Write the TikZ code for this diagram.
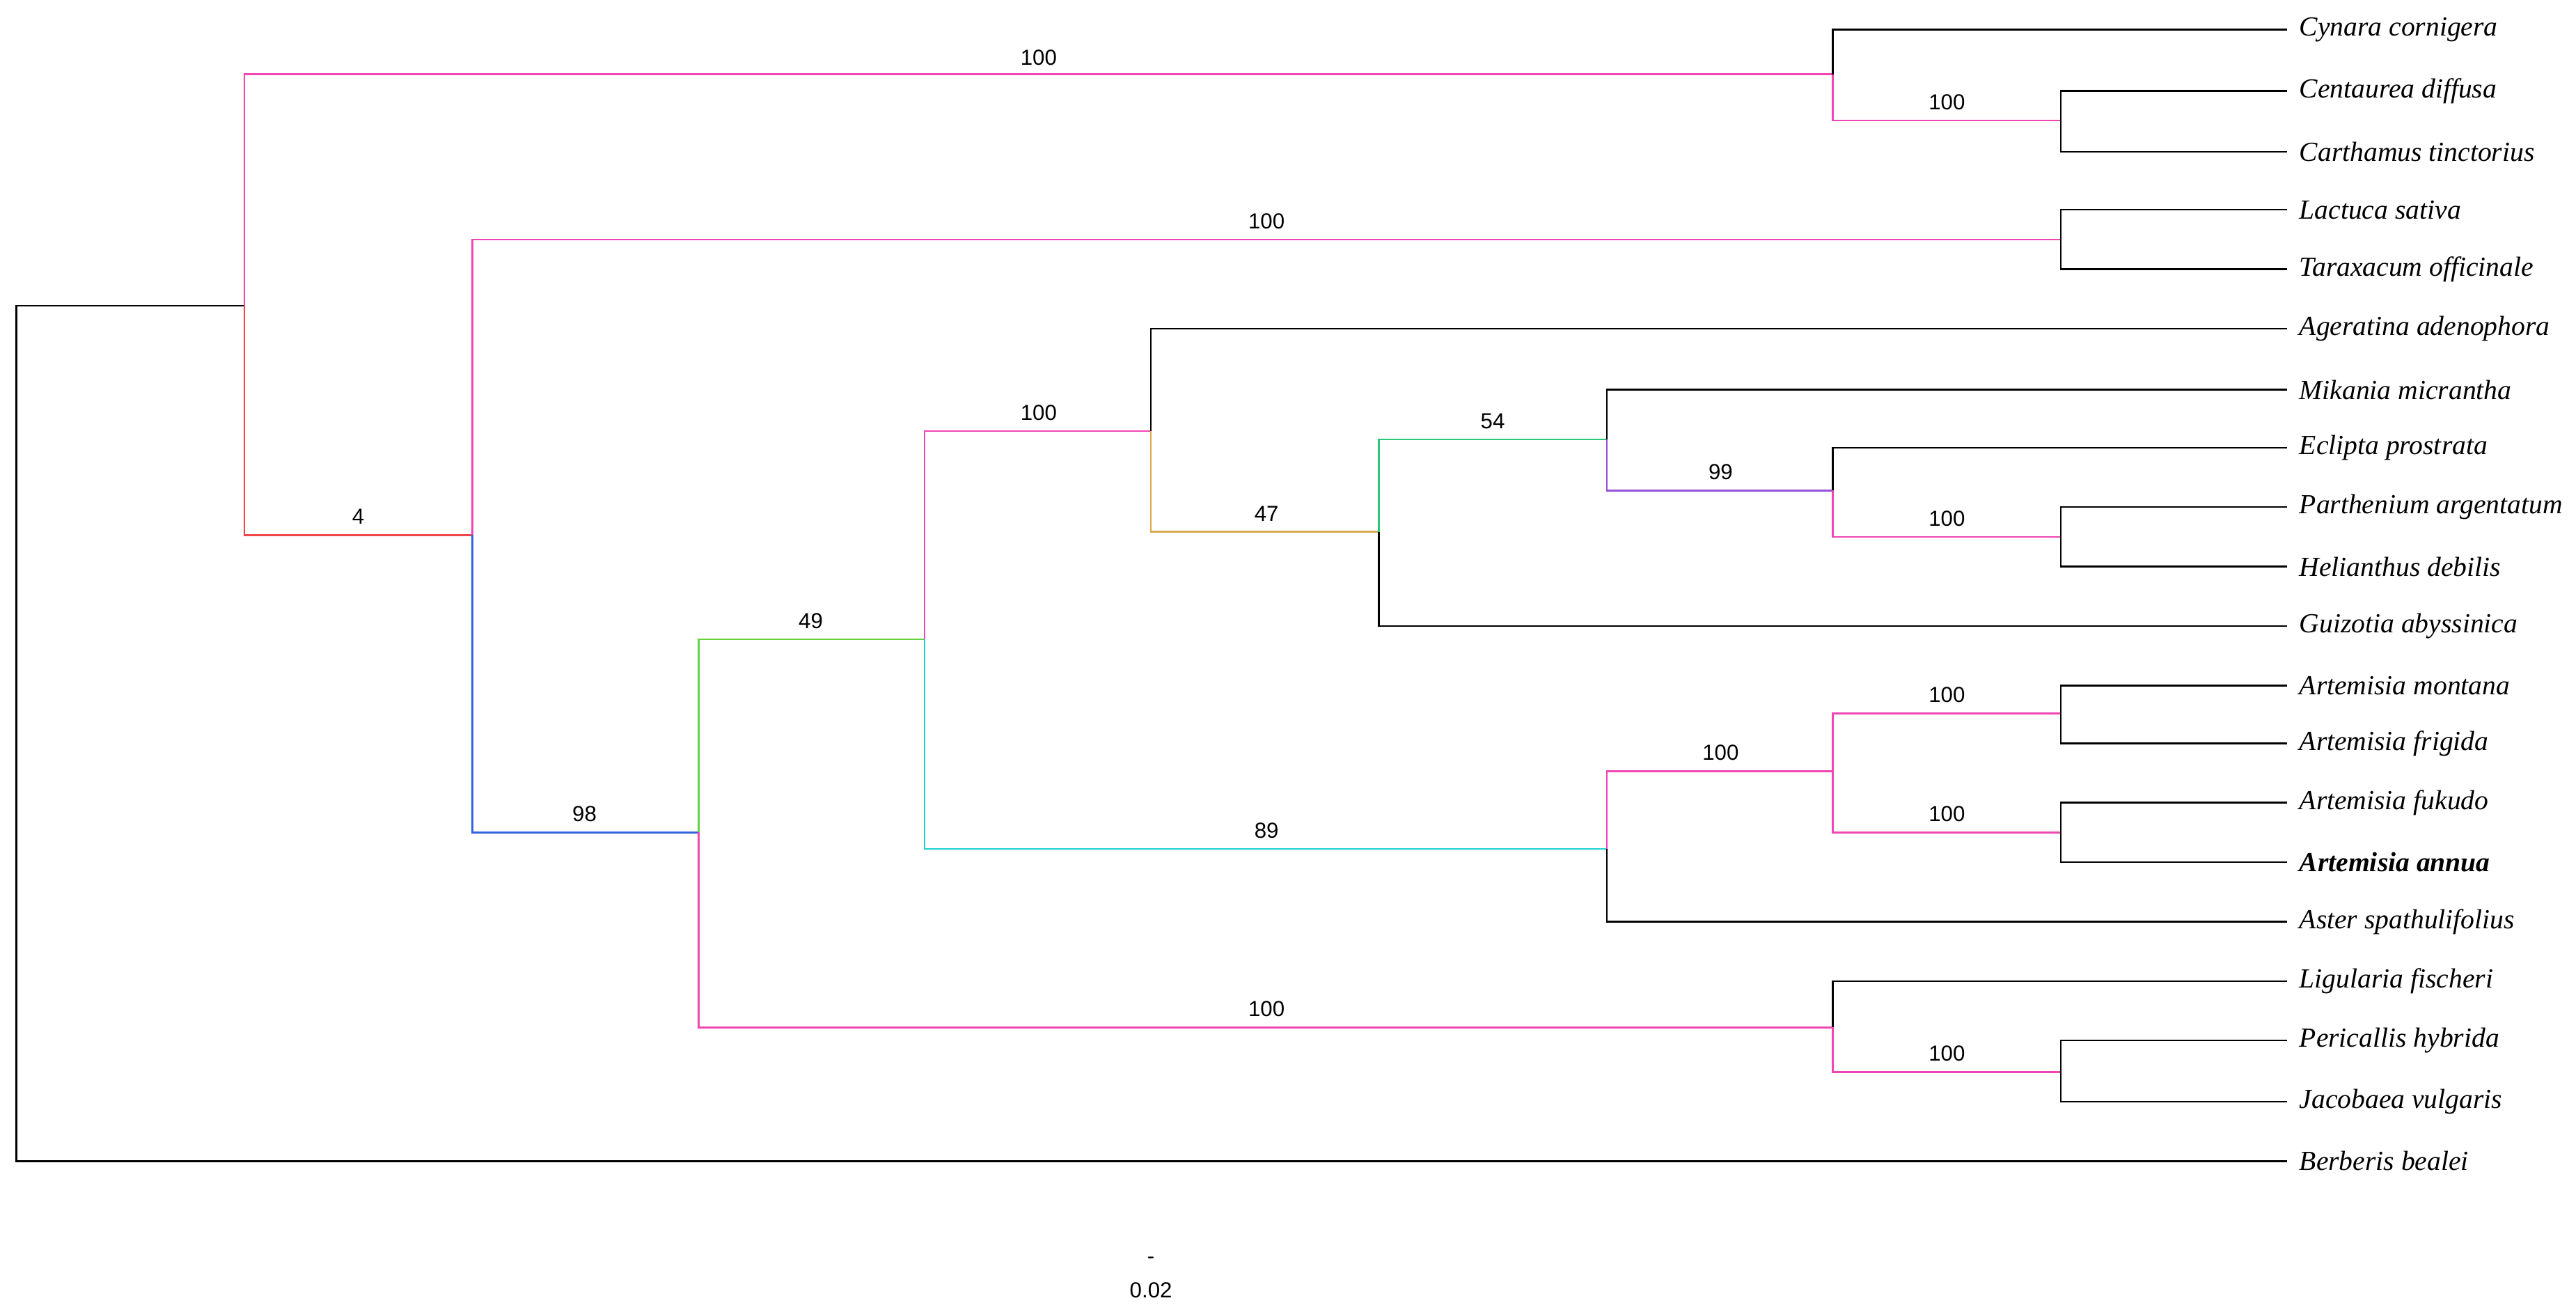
\documentclass[tikz,border=0pt]{standalone}
\usepackage{fontspec}
\setmainfont{Liberation Serif}
\newfontfamily\arialf{Liberation Sans}
\definecolor{pk}{RGB}{240,70,180}
\definecolor{rd}{RGB}{240,70,70}
\definecolor{bl}{RGB}{50,100,220}
\definecolor{gr}{RGB}{100,210,60}
\definecolor{cy}{RGB}{30,210,210}
\definecolor{or}{RGB}{215,170,80}
\definecolor{gg}{RGB}{40,200,120}
\definecolor{pu}{RGB}{150,80,220}
\begin{document}
\begin{tikzpicture}[x=0.02cm,y=-0.02cm,line width=0.6pt,
  sp/.style={anchor=west,inner sep=0pt,font=\fontsize{9.5}{11}\selectfont\itshape},
  bs/.style={anchor=south,inner sep=0pt,font=\arialf\fontsize{7.5}{9}\selectfont},
  br/.style={draw=#1}]
\useasboundingbox (0,0) rectangle (1560,794);
% leaves
\foreach \n/\y/\t in {cy/18/Cynara cornigera, ce/55/Centaurea diffusa, ca/92/Carthamus tinctorius,
 la/127/Lactuca sativa, ta/163/Taraxacum officinale, ag/199/Ageratina adenophora,
 mi/236/Mikania micrantha, ec/271/Eclipta prostrata, pa/307/Parthenium argentatum,
 he/343/Helianthus debilis, gu/379/Guizotia abyssinica, am/415/Artemisia montana,
 af/450/Artemisia frigida, ak/486/Artemisia fukudo, as/558/Aster spathulifolius,
 li/594/Ligularia fischeri, pe/630/Pericallis hybrida, ja/667/Jacobaea vulgaris,
 be/703/Berberis bealei}
 { \coordinate (\n) at (1385,\y); \node[sp] (t\n) at (1392,\y) {\t}; }
\coordinate (an) at (1385,522); \node[sp,font=\fontsize{9.5}{11}\selectfont\itshape\bfseries] (tan) at (1392,522) {Artemisia annua};
% internal nodes
\coordinate (r) at (10,444);
\coordinate (A) at (148,185);
\coordinate (N1) at (1110,45);
\coordinate (N3) at (1248,73);
\coordinate (N2) at (286,324);
\coordinate (L) at (1248,145);
\coordinate (N4) at (423,504);
\coordinate (N5) at (560,387);
\coordinate (N6) at (1110,622);
\coordinate (N7) at (697,261);
\coordinate (N8) at (973,514);
\coordinate (N9) at (835,322);
\coordinate (N10) at (973,266);
\coordinate (N11) at (1110,297);
\coordinate (N12) at (1248,325);
\coordinate (N13) at (1110,467);
\coordinate (N14) at (1248,432);
\coordinate (N15) at (1248,504);
\coordinate (N16) at (1248,649);
% branches: parent/child/color
\foreach \p/\c/\col in {r/A/black, r/be/black, A/N1/pk, A/N2/rd, N1/cy/black, N1/N3/pk,
 N3/ce/black, N3/ca/black, N2/L/pk, N2/N4/bl, L/la/black, L/ta/black,
 N4/N5/gr, N4/N6/pk, N5/N7/pk, N5/N8/cy, N7/ag/black, N7/N9/or, N9/N10/gg, N9/gu/black,
 N10/mi/black, N10/N11/pu, N11/ec/black, N11/N12/pk, N12/pa/black, N12/he/black,
 N8/N13/pk, N8/as/black, N13/N14/pk, N13/N15/pk, N14/am/black, N14/af/black,
 N15/ak/black, N15/an/black, N6/li/black, N6/N16/pk, N16/pe/black, N16/ja/black}
 { \draw[br=\col] (\p) |- (\c); }
% bootstrap labels
\foreach \x/\y/\v in {629/40/100, 1179/67/100, 767/139/100, 217/318/4, 354/498/98,
 491/381/49, 629/255/100, 767/316/47, 904/260/54, 1042/291/99, 1179/319/100,
 767/508/89, 1042/461/100, 1179/426/100, 1179/498/100, 767/616/100, 1179/643/100}
 { \node[bs] at (\x,\y) {\v}; }
\node[inner sep=0pt,font=\arialf\fontsize{7.5}{9}\selectfont] (sb) at (697,763) {-};
\node[inner sep=0pt,font=\arialf\fontsize{7.5}{9}\selectfont] (sl) at (697,781) {0.02};
\end{tikzpicture}
\end{document}
